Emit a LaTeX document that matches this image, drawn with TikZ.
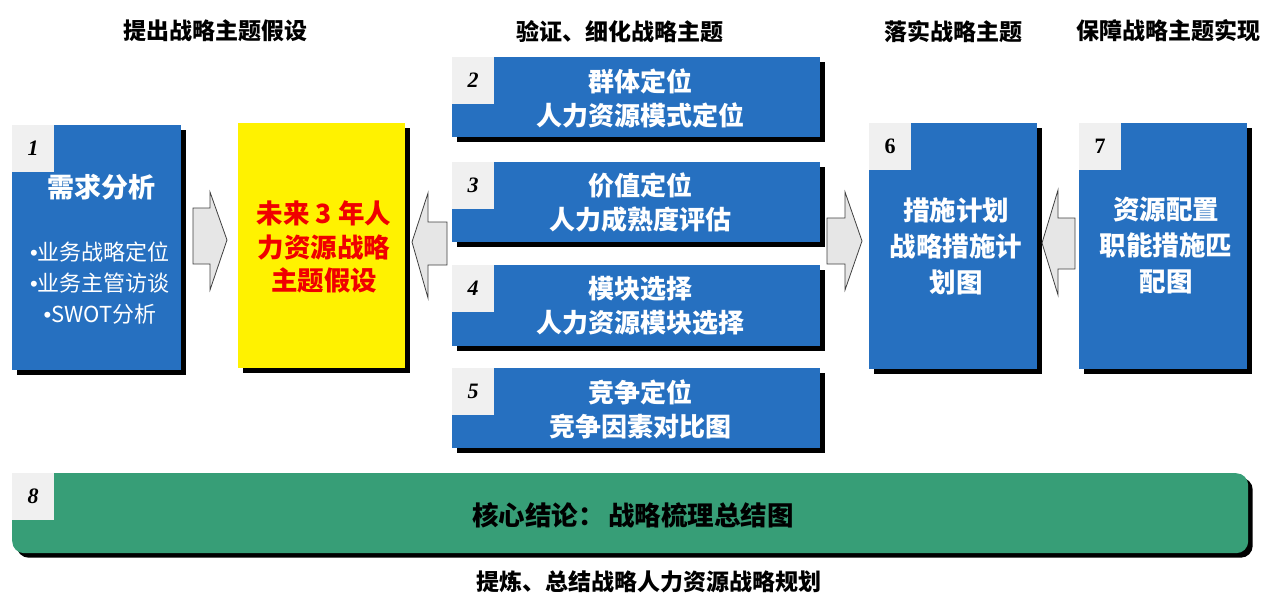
\documentclass[tikz,border=0pt]{standalone}
\usepackage{fontspec}
\newfontfamily\cjk{Noto Sans CJK SC}
\newfontfamily\numfont{Liberation Serif}
\newfontfamily\latin{Liberation Sans}
\definecolor{boxblue}{HTML}{2670C0}
\definecolor{barGreen}{HTML}{379E77}
\definecolor{tabgray}{HTML}{F0F0F0}
\definecolor{arrowgray}{HTML}{E6E6E6}
\definecolor{txtred}{HTML}{F00000}
\newcommand{\blt}{{\latin •}}
\tikzset{
  shadowed/.style={preaction={fill=black, transform canvas={xshift=4.5pt,yshift=-4.5pt}}},
  bluebox/.style={shadowed, fill=boxblue, draw=none, anchor=north west, inner sep=0pt},
  midtext/.style={text=white, align=center, font=\cjk\bfseries\fontsize{26}{34}\selectfont},
  tab/.style={fill=tabgray, draw=none, anchor=north west, inner sep=0pt,
    minimum width=42pt, minimum height=47pt,
    font=\numfont\bfseries\itshape\fontsize{22}{22}\selectfont},
  tabup/.style={tab, font=\numfont\bfseries\fontsize{22}{22}\selectfont},
  header/.style={font=\cjk\bfseries\fontsize{23}{23}\selectfont, text=black},
  blockarrow/.style={fill=arrowgray, draw=black!75, line width=0.8pt, line join=miter}
}
\begin{document}
\begin{tikzpicture}[x=1pt,y=-1pt]
\useasboundingbox (0,0) rectangle (1273,605);

% headers
\node[header] (h1) at (215,31) {提出战略主题假设};
\node[header] (h2) at (620,32) {验证、细化战略主题};
\node[header] (h3) at (953,32) {落实战略主题};
\node[header] (h4) at (1168,31) {保障战略主题实现};

% box 1
\node[bluebox, minimum width=169pt, minimum height=245pt] (b1) at (12,125) {};
\node[tab] (t1) at (12,125) {1};
\node[text=white, font=\cjk\bfseries\fontsize{27}{27}\selectfont] (b1t) at (101,187) {需求分析};
\node[text=white, align=center, font=\cjk\fontsize{22}{31}\selectfont] (b1b) at (100,283) {\blt{}业务战略定位\\\blt{}业务主管访谈\\\blt{}SWOT分析};

% yellow box
\node[shadowed, fill=yellow, anchor=north west, inner sep=0pt, minimum width=167pt, minimum height=245pt] (y) at (238,123) {};
\node[text=txtred, align=center, font=\cjk\bfseries\fontsize{26.5}{33.5}\selectfont] (yt) at (324,247) {未来 3 年人\\力资源战略\\主题假设};

% middle boxes
\node[bluebox, minimum width=368pt, minimum height=80pt] (b2) at (452,57) {};
\node[tab] (t2) at (452,57) {2};
\node[midtext] (b2t) at (640,98) {群体定位\\人力资源模式定位};

\node[bluebox, minimum width=368pt, minimum height=80pt] (b3) at (452,162) {};
\node[tab] (t3) at (452,162) {3};
\node[midtext] (b3t) at (640,203) {价值定位\\人力成熟度评估};

\node[bluebox, minimum width=368pt, minimum height=81pt] (b4) at (452,265) {};
\node[tab] (t4) at (452,265) {4};
\node[midtext] (b4t) at (640,306) {模块选择\\人力资源模块选择};

\node[bluebox, minimum width=368pt, minimum height=80pt] (b5) at (452,368) {};
\node[tab] (t5) at (452,368) {5};
\node[midtext] (b5t) at (640,409) {竞争定位\\竞争因素对比图};

% box 6
\node[bluebox, minimum width=168pt, minimum height=246pt] (b6) at (869,123) {};
\node[tabup] (t6) at (869,123) {6};
\node[text=white, align=center, font=\cjk\bfseries\fontsize{26.5}{36}\selectfont] (b6t) at (956,246) {措施计划\\战略措施计\\划图};

% box 7
\node[bluebox, minimum width=168pt, minimum height=246pt] (b7) at (1079,123) {};
\node[tabup] (t7) at (1079,123) {7};
\node[text=white, align=center, font=\cjk\bfseries\fontsize{26.5}{36}\selectfont] (b7t) at (1166,246) {资源配置\\职能措施匹\\配图};

% green bar
\node[shadowed, fill=barGreen, anchor=north west, inner sep=0pt, rounded corners=12pt,
  minimum width=1236pt, minimum height=80pt] (g) at (12,473) {};
\node[tab] (t8) at (12,473) {8};
\node[text=black, font=\cjk\bfseries\fontsize{26.5}{26.5}\selectfont] (gt) at (633,515) {核心结论：\hspace{4pt}战略梳理总结图};

% bottom text
\node[header] (bt) at (649,582) {提炼、总结战略人力资源战略规划};

% block arrows
\draw[blockarrow] (193,208) -- (210,208) -- (210,192) -- (227,240) -- (210,290) -- (210,264) -- (193,264) -- cycle;
\draw[blockarrow] (447,222) -- (428,222) -- (428,193) -- (412,242) -- (428,298) -- (428,265) -- (447,265) -- cycle;
\draw[blockarrow] (827,218) -- (845,218) -- (845,192) -- (862,241) -- (845,290) -- (845,264) -- (827,264) -- cycle;
\draw[blockarrow] (1075,218) -- (1058,218) -- (1058,190) -- (1042,243) -- (1058,295) -- (1058,269) -- (1075,269) -- cycle;
\end{tikzpicture}
\end{document}
